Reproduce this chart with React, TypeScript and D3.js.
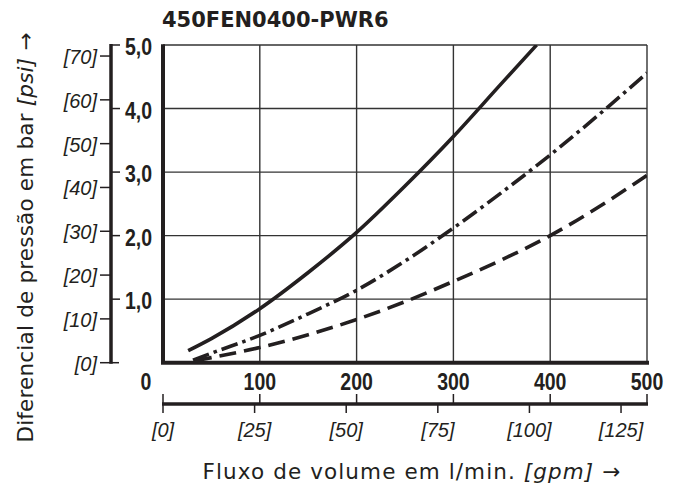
import React from "react";
import * as d3 from "d3";

const chartTitle = "450FEN0400-PWR6";
const xTitleMain = "Fluxo de volume em l/min. ";
const xTitleUnit = "[gpm]";
const yTitleMain = "Diferencial de pressão em bar ";
const yTitleUnit = "[psi]";
const arrow = " →";

const lpmTicks = [0, 100, 200, 300, 400, 500];
const gpmTicks = [0, 25, 50, 75, 100, 125];
const barTicks = [1, 2, 3, 4, 5];
const barTickLabels = ["1,0", "2,0", "3,0", "4,0", "5,0"];
const psiTicks = [0, 10, 20, 30, 40, 50, 60, 70];

const LPM_PER_GPM = 3.78541;
const BAR_PER_PSI = 0.0689476;

// series: flow in l/min, pressure differential in bar
const solidFlow = [26, 50, 100, 150, 200, 250, 300, 350, 386];
const solidDp = [0.19, 0.38, 0.85, 1.42, 2.05, 2.78, 3.56, 4.4, 5.0];

const dashDotFlow = [31, 50, 100, 150, 200, 250, 300, 350, 400, 450, 500];
const dashDotDp = [0.04, 0.15, 0.43, 0.77, 1.14, 1.6, 2.12, 2.68, 3.27, 3.9, 4.56];

const dashedFlow = [33, 50, 100, 150, 200, 250, 300, 350, 400, 450, 500];
const dashedDp = [0.03, 0.08, 0.24, 0.44, 0.68, 0.96, 1.28, 1.62, 2.0, 2.45, 2.95];

const W = 680;
const H = 492;
const L = 163, R = 647, T = 45, B = 362.7;
const INK = "#231f20";
const ARIAL = "Liberation Sans, Arimo, Arial, sans-serif";
const TITLE_FONT = "DejaVu Sans, sans-serif";
const NARROW = 0.83;

function NarrowBold(props: { x: number; y: number; anchor: string; children: React.ReactNode }) {
  return (
    <text
      transform={`translate(${props.x},${props.y}) scale(${NARROW},1)`}
      textAnchor={props.anchor}
      dominantBaseline="central"
      fontFamily={ARIAL}
      fontWeight="bold"
      fontSize={23.5}
      fill={INK}
    >
      {props.children}
    </text>
  );
}

export default function App() {
  const x = d3.scaleLinear().domain([0, 500]).range([L, R]);
  const y = d3.scaleLinear().domain([0, 5]).range([B, T]);
  const xg = d3.scaleLinear().domain([0, 500 / LPM_PER_GPM]).range([L, R]);
  const yp = d3.scaleLinear().domain([0, 5 / BAR_PER_PSI]).range([B, T]);

  const line = d3
    .line<[number, number]>()
    .x((d) => x(d[0]))
    .y((d) => y(d[1]))
    .curve(d3.curveMonotoneX);

  const mk = (f: number[], v: number[]) => f.map((q, i) => [q, v[i]] as [number, number]);
  const series = [
    { pts: mk(solidFlow, solidDp), dash: "none" },
    { pts: mk(dashDotFlow, dashDotDp), dash: "17 5 3.5 5" },
    { pts: mk(dashedFlow, dashedDp), dash: "17 8" },
  ];

  const axisX = 111; // bar/psi axis line
  const gpmY = 404;

  return (
    <svg width={W} height={H} style={{ position: "absolute", left: 0, top: 0, background: "#fff" }}>
      <rect x={0} y={0} width={W} height={H} fill="#fff" />
      <defs>
        <clipPath id="plotClip">
          <rect x={L} y={T} width={R - L} height={B - T} />
        </clipPath>
      </defs>

      {/* title */}
      <text x={162} y={27.3} fontFamily={TITLE_FONT} fontWeight="bold" fontSize={21} fill={INK}>
        {chartTitle}
      </text>

      {/* grid */}
      {lpmTicks.slice(1, -1).map((t) => (
        <line key={"gx" + t} x1={x(t)} x2={x(t)} y1={T} y2={B} stroke="#333" strokeWidth={1.4} />
      ))}
      {barTicks.slice(0, -1).map((t) => (
        <line key={"gy" + t} x1={L} x2={R} y1={y(t)} y2={y(t)} stroke="#333" strokeWidth={1.4} />
      ))}
      {/* frame: thin top/right, thick left/bottom */}
      <line x1={L} x2={R} y1={T} y2={T} stroke="#333" strokeWidth={1.4} />
      <line x1={R} x2={R} y1={T} y2={B} stroke="#333" strokeWidth={1.4} />
      <line x1={L} x2={L} y1={T - 0.7} y2={B} stroke={INK} strokeWidth={4} />
      <line x1={L - 2} x2={R + 2} y1={B} y2={B} stroke={INK} strokeWidth={4} />

      {/* curves */}
      <g clipPath="url(#plotClip)">
        {series.map((s, i) => (
          <path
            key={i}
            d={line(s.pts) || ""}
            fill="none"
            stroke={INK}
            strokeWidth={3.6}
            strokeDasharray={s.dash}
            strokeLinecap="butt"
          />
        ))}
      </g>

      {/* left bar / psi axis */}
      <line x1={axisX} x2={axisX} y1={T - 1} y2={B + 1} stroke={INK} strokeWidth={3.5} />
      {barTicks.map((t, i) => (
        <g key={"bt" + t}>
          <line x1={axisX} x2={axisX + 9} y1={y(t)} y2={y(t)} stroke={INK} strokeWidth={1.5} />
          <NarrowBold x={125} y={y(t) + 2} anchor="start">
            {barTickLabels[i]}
          </NarrowBold>
        </g>
      ))}
      {psiTicks.map((t) => (
        <g key={"pt" + t}>
          <line
            x1={axisX - 11}
            x2={t === 0 ? axisX + 8 : axisX}
            y1={yp(t)}
            y2={yp(t)}
            stroke={INK}
            strokeWidth={1.5}
          />
          <text
            x={97}
            y={yp(t) + 1}
            textAnchor="end"
            dominantBaseline="central"
            fontFamily={ARIAL}
            fontStyle="italic"
            fontSize={20}
            fill={INK}
          >
            {"[" + t + "]"}
          </text>
        </g>
      ))}

      {/* l/min labels */}
      {lpmTicks.map((t) => (
        <NarrowBold key={"xl" + t} x={t === 0 ? x(t) - 17 : x(t)} y={381.5} anchor="middle">
          {t}
        </NarrowBold>
      ))}

      {/* bottom l/min + gpm axis */}
      <line x1={L - 1} x2={R + 1} y1={gpmY} y2={gpmY} stroke={INK} strokeWidth={3.5} />
      {lpmTicks.map((t) => (
        <line key={"lt" + t} x1={x(t)} x2={x(t)} y1={gpmY - 10} y2={gpmY} stroke={INK} strokeWidth={1.5} />
      ))}
      {gpmTicks.map((t) => (
        <g key={"gt" + t}>
          <line x1={xg(t)} x2={xg(t)} y1={gpmY} y2={gpmY + 9} stroke={INK} strokeWidth={1.5} />
          <text
            x={xg(t)}
            y={430}
            textAnchor="middle"
            dominantBaseline="central"
            fontFamily={ARIAL}
            fontStyle="italic"
            fontSize={20}
            fill={INK}
          >
            {"[" + t + "]"}
          </text>
        </g>
      ))}

      {/* axis titles */}
      <text
        x={412}
        y={479.3}
        textAnchor="middle"
        fontFamily={TITLE_FONT}
        fontSize={21.5}
        letterSpacing={1.1}
        fill={INK}
      >
        {xTitleMain}
        <tspan fontStyle="italic">{xTitleUnit}</tspan>
        {arrow}
      </text>
      <text
        transform={`translate(33,237.5) rotate(-90)`}
        textAnchor="middle"
        fontFamily={TITLE_FONT}
        fontSize={21.5}
        letterSpacing={0.2}
        fill={INK}
      >
        {yTitleMain}
        <tspan fontStyle="italic">{yTitleUnit}</tspan>
        {arrow}
      </text>
    </svg>
  );
}
